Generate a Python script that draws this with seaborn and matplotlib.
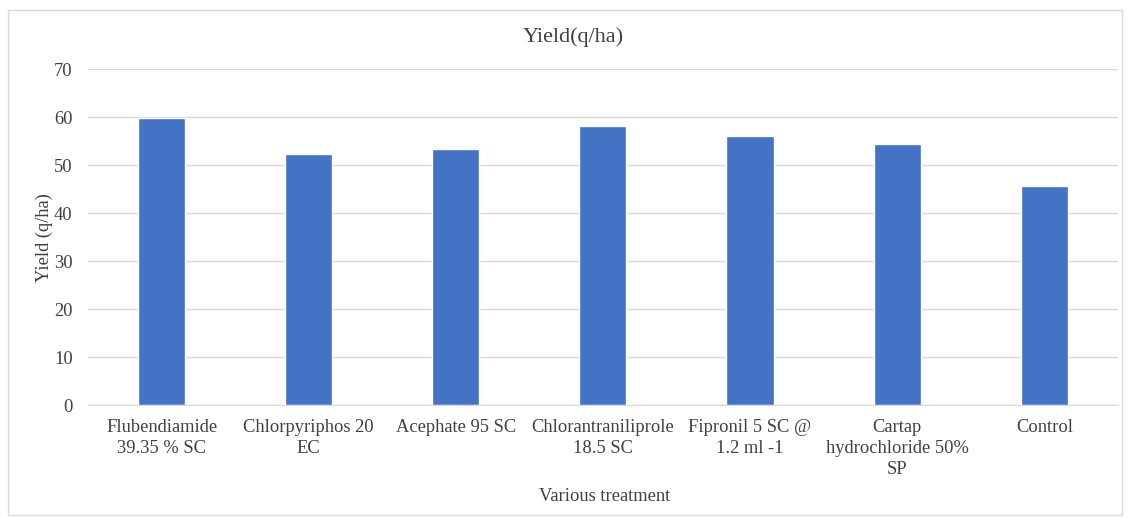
import matplotlib
matplotlib.use("Agg")
import matplotlib.pyplot as plt
import pandas as pd
import seaborn as sns
from matplotlib.patches import Rectangle

treatments = [
    "Flubendiamide\n39.35 % SC",
    "Chlorpyriphos 20\nEC",
    "Acephate 95 SC",
    "Chlorantraniliprole\n18.5 SC",
    "Fipronil 5 SC @\n1.2 ml -1",
    "Cartap\nhydrochloride 50%\nSP",
    "Control",
]
yield_q_ha = [59.9, 52.3, 53.3, 58.3, 56.2, 54.4, 45.6]
y_ticks = [0, 10, 20, 30, 40, 50, 60, 70]

df = pd.DataFrame({"treatment": treatments, "yield": yield_q_ha})

sns.set_style("white")
plt.rcParams["font.family"] = ["Liberation Serif", "DejaVu Serif"]

text_col = "#404040"
fs = 13.3

fig = plt.figure(figsize=(11.28, 5.18), dpi=100)
ax = fig.add_axes([0.078, 0.218, 0.913, 0.648])

sns.barplot(data=df, x="treatment", y="yield", color="#4472C4",
            saturation=1, width=0.32, ax=ax)

ax.set_ylim(0, 70)
ax.set_xlim(-0.5, len(treatments) - 0.5)
ax.set_yticks(y_ticks)
ax.yaxis.grid(True, color="#d9d9d9", linewidth=1)
ax.set_axisbelow(True)
for side in ["top", "right", "left"]:
    ax.spines[side].set_visible(False)
ax.spines["bottom"].set_color("#d9d9d9")
ax.tick_params(axis="both", length=0, labelsize=fs, colors=text_col)
ax.tick_params(axis="y", pad=11)
ax.tick_params(axis="x", pad=10)
for lbl in ax.get_xticklabels():
    lbl.set_linespacing(1.3)

ax.set_xlabel("Various treatment", fontsize=fs, color=text_col)
ax.xaxis.set_label_coords(0.502, -0.247)
ax.set_ylabel("Yield (q/ha)", fontsize=fs, color=text_col)
ax.yaxis.set_label_coords(-0.034, 0.5)
fig.text(0.508, 0.929, "Yield(q/ha)", ha="center", va="center",
         fontsize=16, color=text_col)

# chart outline
fig.patches.append(Rectangle((0.007, 0.006), 0.988, 0.975, transform=fig.transFigure,
                             fill=False, edgecolor="#d9d9d9", linewidth=1))

fig.savefig("out.png", dpi=100, facecolor="white")
